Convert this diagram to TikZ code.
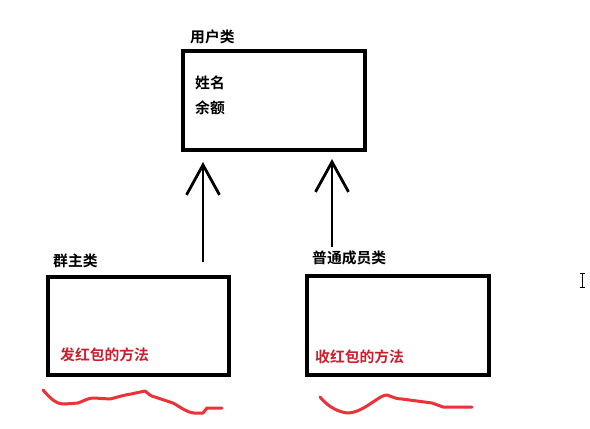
\documentclass[tikz,border=0pt]{standalone}
\usepackage{fontspec}
\newfontfamily\cjk{Noto Sans CJK SC}[BoldFont={* Bold}]
\usetikzlibrary{arrows.meta}
\definecolor{txtred}{RGB}{205,30,45}
\definecolor{penred}{RGB}{236,50,55}
\tikzset{
  classbox/.style={draw=black, line width=3.2pt, inner sep=0pt, minimum width=#1},
  lbl/.style={anchor=west, inner sep=0pt, font=\cjk\bfseries\fontsize{14.8}{17}\selectfont},
  redlbl/.style={lbl, text=txtred},
  inherit/.style={line width=2.8pt, -{Straight Barb[length=30pt, width=33pt]}},
  squiggle/.style={draw=penred, line width=3pt, line cap=round, line join=round}
}
\begin{document}
\begin{tikzpicture}[x=1pt, y=-1pt]
\useasboundingbox[fill=white] (0,0) rectangle (590,429);
% boxes
\node[classbox=182pt, minimum height=99pt] (user) at (274,100.5) {};
\node[classbox=181pt, minimum height=98pt] (qun) at (138.5,326) {};
\node[classbox=182pt, minimum height=99pt] (mem) at (398,325.5) {};
% labels
\node[lbl] (userl) at (190,37) {用户类};
\node[lbl] (name) at (195,83) {姓名};
\node[lbl] (bal) at (195,108) {余额};
\node[lbl] (qunl) at (53,261) {群主类};
\node[lbl] (meml) at (312,258) {普通成员类};
\node[redlbl] (send) at (60,355) {发红包的方法};
\node[redlbl] (recv) at (315,357) {收红包的方法};
% arrows
\coordinate (a1s) at (203,262);
\coordinate (a1e) at (203,162);
\coordinate (a2s) at (332,247);
\coordinate (a2e) at (332,159);
\draw[inherit] (a1s) -- (a1e);
\draw[inherit] (a2s) -- (a2e);
% red pen squiggles
\draw[squiggle] (43,390) .. controls (52,400) and (56,404) .. (65,404)
  -- (78,403) .. controls (86,400) and (88,398) .. (94,398)
  -- (110,399) .. controls (118,397) and (124,395) .. (131,394)
  -- (145,391) .. controls (149,394) and (150,396) .. (155,397)
  -- (173,403) .. controls (182,408) and (186,412) .. (194,413)
  -- (203,413) -- (207,408) -- (222,408);
\draw[squiggle] (320,397) .. controls (326,404) and (334,411) .. (347,413)
  .. controls (356,413) and (364,408) .. (373,402)
  .. controls (379,398) and (383,395) .. (387,395)
  .. controls (393,397) and (396,399) .. (402,399)
  -- (417,401) -- (432,403) -- (443,407) -- (472,407);
% text cursor
\draw[line width=0.9pt] (582,274) -- (582,287);
\draw[line width=0.9pt] (579.5,273.5) -- (584.5,273.5);
\draw[line width=0.9pt] (579.5,287.5) -- (584.5,287.5);
\end{tikzpicture}
\end{document}
